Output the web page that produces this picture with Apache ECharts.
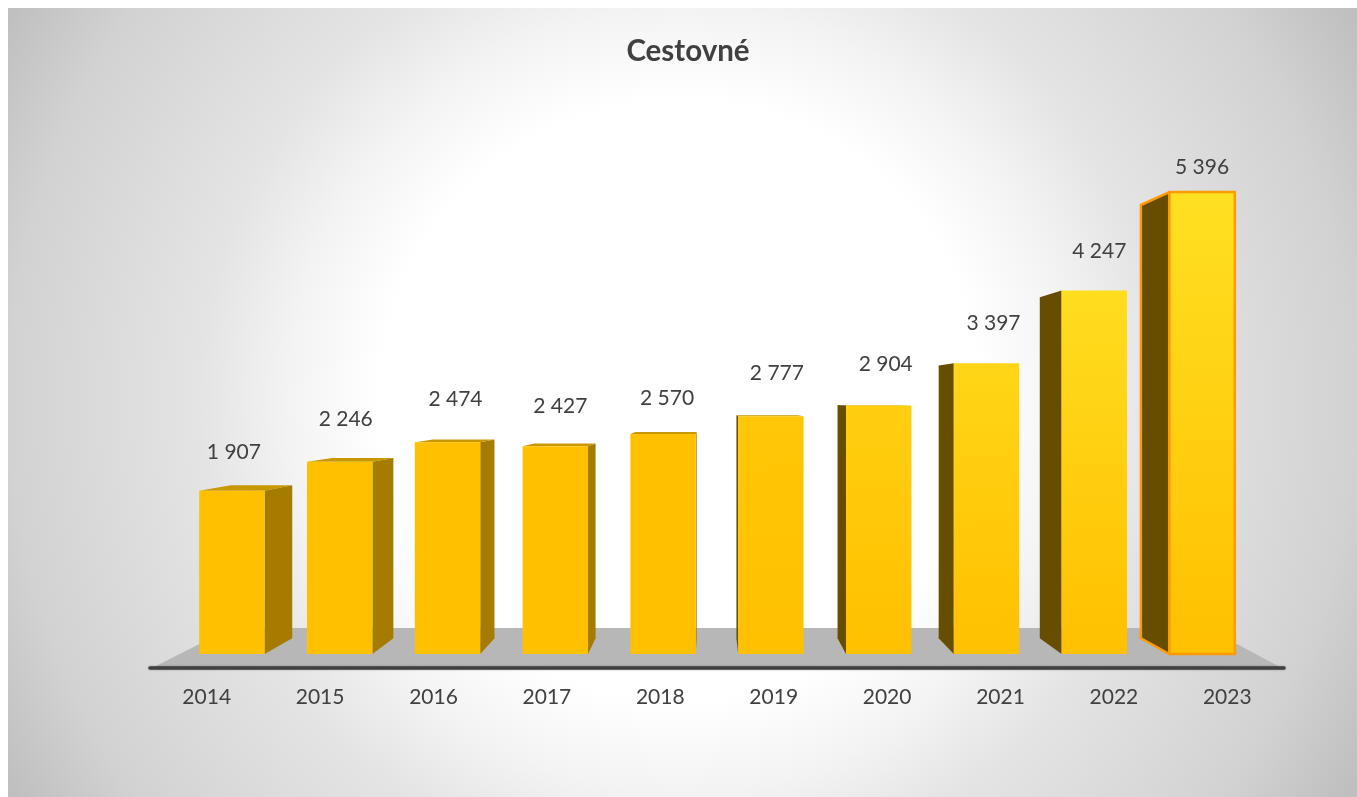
<!DOCTYPE html>
<html>
<head>
<meta charset="utf-8">
<style>html,body{margin:0;padding:0;background:#fff}#c{width:1357px;height:797px}</style>
<script src="https://cdn.jsdelivr.net/npm/echarts@6/dist/echarts.min.js"></script>
</head>
<body>
<div id="c"></div>
<script>
var titleText = 'Cestovné';
var years = ['2014','2015','2016','2017','2018','2019','2020','2021','2022','2023'];
var values = [1907,2246,2474,2427,2570,2777,2904,3397,4247,5396];
// manual nudges of the data labels (px), as placed in the source chart
var labelNudgeX = [2,6,8,5,4,6,7,7,5,0];
var labelNudgeY = [-39,-43,-43,-40,-36,-43,-41,-40,-39,-25];

var FONT = 'Lato,"Open Sans",sans-serif';
var VPX = 710, VPY = 400, DEPTH = 0.062;
var TEXT = '#404040';

function fmt(v){ return String(v).replace(/\B(?=(\d{3})+$)/g,' '); }
function back(p){ return [p[0]+(VPX-p[0])*DEPTH, p[1]+(VPY-p[1])*DEPTH]; }
function lerp(a,b,t){ return Math.round(a+(b-a)*t); }

function renderBar(params, api){
  var i = api.value(0), v = api.value(1);
  var top = api.coord([i,v]), base = api.coord([i,0]);
  var w = api.size([1,0])[0]*0.607;
  var x1 = top[0]-w/2, x2 = top[0]+w/2, yT = top[1], yB = base[1];
  var isLast = i === values.length-1;
  var edge = isLast ? {stroke:'#FF9A00',lineWidth:2.5,lineJoin:'round'} : {};
  var kids = [];
  function poly(pts,fill,extra){
    kids.push({type:'polygon',shape:{points:pts},style:Object.assign({fill:fill},extra||{})});
  }
  var tl=[x1,yT], tr=[x2,yT], bl=[x1,yB], br=[x2,yB];
  if (yT > VPY) poly([tl,tr,back(tr),back(tl)],'#C99700',edge);
  if (x2 < VPX) poly([tr,br,back(br),back(tr)],'#A67C00',edge);
  else if (x1 > VPX) poly([tl,bl,back(bl),back(tl)],'#664D00',edge);
  var m = Math.max(0,Math.min(1,(top[0]-663)/539*1.15));
  var topCol = 'rgb(255,'+lerp(192,224,m)+','+lerp(0,34,m)+')';
  kids.push({type:'rect',shape:{x:x1,y:yT,width:x2-x1,height:yB-yT},
    style:Object.assign({fill:{type:'linear',x:0,y:0,x2:0.05,y2:1,colorStops:[
      {offset:0,color:topCol},{offset:1,color:'#FFC000'}]}},edge)});
  kids.push({type:'text',style:{text:fmt(v),x:top[0]+labelNudgeX[i],y:yT+labelNudgeY[i],
    align:'center',verticalAlign:'middle',fill:TEXT,font:'21px '+FONT}});
  return {type:'group',children:kids};
}

function renderFloor(params){
  var c = params.coordSys;
  return {type:'polygon',shape:{points:[
    [c.x+3,c.y+c.height],[c.x+c.width-3,c.y+c.height],
    [c.x+c.width-77,c.y],[c.x+81,c.y]]},style:{fill:'#B7B7B7'}};
}

var chart = echarts.init(document.getElementById('c'),null,{renderer:'canvas'});
chart.setOption({
  animation:false,
  graphic:{elements:[{type:'rect',z:-10,silent:true,
    shape:{x:8,y:8,width:1349,height:789},
    style:{fill:{type:'radial',x:680,y:400,r:775,global:true,colorStops:[
      {offset:0,color:'#FFFFFF'},{offset:0.387,color:'#FFFFFF'},{offset:0.506,color:'#F3F3F3'},
      {offset:0.62,color:'#E4E4E4'},{offset:0.867,color:'#D2D2D2'},{offset:1,color:'#BFBFBF'}]}}}]},
  title:{text:titleText,left:683,top:31,textAlign:'center',
    textStyle:{fontFamily:FONT,fontWeight:700,fontSize:29.5,color:TEXT}},
  grid:[
    {left:178,width:1078,top:140.4,height:513.6},
    {left:150,width:1134,top:628,height:39.5}
  ],
  xAxis:[
    {gridIndex:0,type:'category',data:years,show:false},
    {gridIndex:1,type:'category',data:years,z:5,
      axisTick:{show:false},
      axisLine:{lineStyle:{color:'#404040',width:3.5,cap:'round',shadowColor:'rgba(0,0,0,0.35)',shadowBlur:2}},
      axisLabel:{color:TEXT,fontFamily:FONT,fontSize:21,margin:19}}
  ],
  yAxis:[
    {gridIndex:0,type:'value',min:0,max:6000,show:false},
    {gridIndex:1,type:'value',min:0,max:1,show:false}
  ],
  series:[
    {type:'custom',xAxisIndex:1,yAxisIndex:1,z:1,silent:true,data:[[0,0]],renderItem:renderFloor},
    {type:'custom',xAxisIndex:0,yAxisIndex:0,z:3,silent:true,clip:false,
      data:values.map(function(v,i){return [i,v];}),
      encode:{x:0,y:1},renderItem:renderBar}
  ]
});
</script>
</body>
</html>
